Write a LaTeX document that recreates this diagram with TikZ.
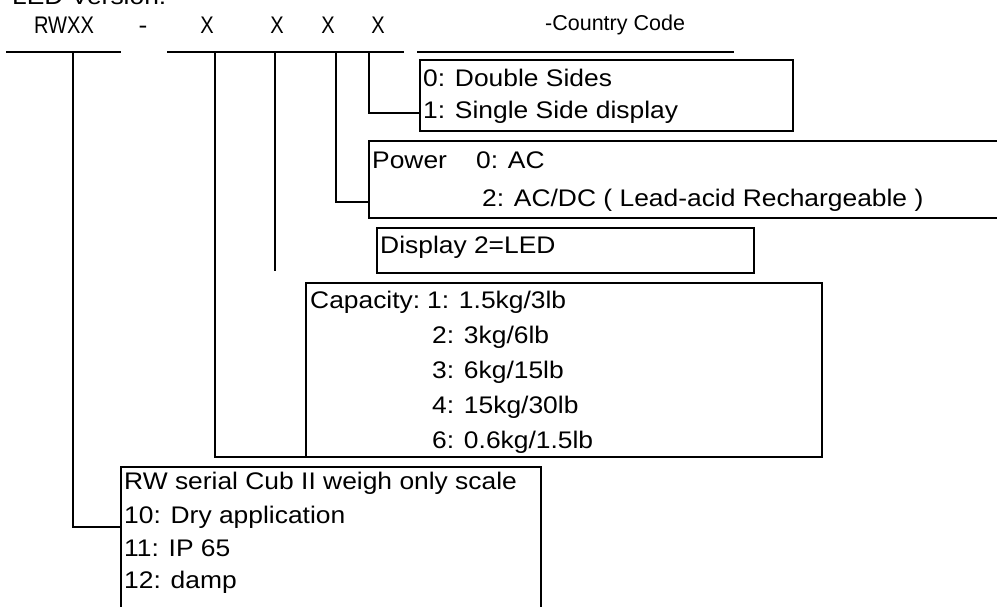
\documentclass[tikz,border=0pt]{standalone}
\usepackage{fontspec}
\setmainfont[FakeStretch=1.1]{Liberation Sans}
\newfontfamily\arialfont{Liberation Sans}
\begin{document}
\begin{tikzpicture}[x=1pt,y=-1pt,
  lbl/.style={inner sep=0pt, anchor=base west, font=\fontsize{24}{28}\selectfont},
  code/.style={inner sep=0pt, anchor=base, font=\fontsize{24}{28}\selectfont},
  boxnode/.style={draw, line width=2pt, rectangle, inner sep=0pt, outer sep=0pt, anchor=north west},
  uline/.style={line width=2.8pt},
  conn/.style={line width=2pt}]
\clip (0,0) rectangle (997,606);
\path[use as bounding box] (0,0) rectangle (997,606);

% top row
\node[lbl] (led) at (12,4) {LED Version:};
\node[code] (rwxx) at (64,33) {\scalebox{0.76}[1]{RWXX}};
\node[code] (dash) at (143,33) {-};
\node[code] (x1) at (207,33) {\scalebox{0.76}[1]{X}};
\node[code] (x2) at (277,33) {\scalebox{0.76}[1]{X}};
\node[code] (x3) at (328,33) {\scalebox{0.76}[1]{X}};
\node[code] (x4) at (378,33) {\scalebox{0.76}[1]{X}};
\node[lbl, font=\arialfont\fontsize{21.5}{25}\selectfont] (cc) at (545,30) {-Country Code};

% underlines
\coordinate (ua) at (6,52);   \coordinate (ub) at (121,52);
\coordinate (uc) at (167,52); \coordinate (ud) at (404,52);
\coordinate (ue) at (417,52); \coordinate (uf) at (734,52);
\draw[uline] (ua) -- (ub);
\draw[uline] (uc) -- (ud);
\draw[uline] (ue) -- (uf);

% boxes
\node[boxnode, minimum width=373pt, minimum height=71pt] (b1) at (420,60) {};
\node[boxnode, minimum width=660pt, minimum height=77pt] (pw) at (369,141) {};
\node[boxnode, minimum width=377pt, minimum height=45pt] (dp) at (377,228) {};
\node[boxnode, minimum width=516pt, minimum height=174pt] (cap) at (306,283) {};
\node[boxnode, minimum width=420pt, minimum height=160pt] (rw) at (121,467) {};

% box texts
\node[lbl] (b1a) at (423,86) {0: Double Sides};
\node[lbl] (b1b) at (423,118) {1: Single Side display};
\node[lbl] (pwa) at (372,168) {Power};
\node[lbl] (pwb) at (476,168) {0: AC};
\node[lbl] (pwc) at (482,206) {2: AC/DC ( Lead-acid Rechargeable )};
\node[lbl] (dpa) at (380,253) {Display 2=LED};
\node[lbl] (capa) at (310,308) {Capacity:};
\node[lbl] (capb) at (427,308) {1: 1.5kg/3lb};
\node[lbl] (capc) at (432,343) {2: 3kg/6lb};
\node[lbl] (capd) at (432,378) {3: 6kg/15lb};
\node[lbl] (cape) at (432,413) {4: 15kg/30lb};
\node[lbl] (capf) at (432,448) {6: 0.6kg/1.5lb};
\node[lbl] (rwa) at (124,489) {RW serial Cub II weigh only scale};
\node[lbl] (rwb) at (124,523) {10: Dry application};
\node[lbl] (rwc) at (124,556) {11: IP 65};
\node[lbl] (rwd) at (124,588) {12: damp};

% connectors
\coordinate (t1) at (73,52);  \coordinate (e1) at (121,527);
\coordinate (t2) at (215,52); \coordinate (e2) at (306,457);
\coordinate (t3) at (275,52); \coordinate (e3) at (275,271);
\coordinate (t4) at (336,52); \coordinate (e4) at (369,202);
\coordinate (t5) at (369,52); \coordinate (e5) at (420,113);
\draw[conn] (t1) |- (e1);
\draw[conn] (t2) |- (e2);
\draw[conn] (t3) -- (e3);
\draw[conn] (t4) |- (e4);
\draw[conn] (t5) |- (e5);
\end{tikzpicture}
\end{document}
